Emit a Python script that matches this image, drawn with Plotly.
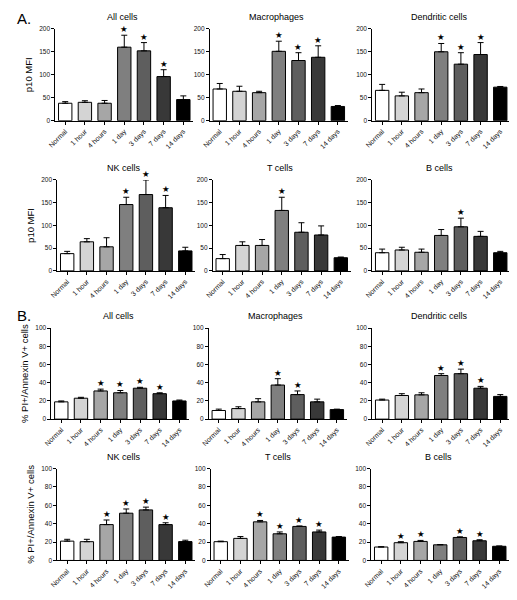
import plotly.graph_objects as go

categories = ["Normal", "1 hour", "4 hours", "1 day", "3 days", "7 days", "14 days"]
bar_colors = ["#ffffff", "#d4d4d4", "#a6a6a6", "#7f7f7f", "#5e5e5e", "#383838", "#000000"]

# Panel A: p10 MFI
mfi_all = [38, 40, 38, 160, 152, 96, 46]
mfi_all_err = [3.5, 3.5, 6, 26, 18, 15, 8]
mfi_all_star = [0, 0, 0, 1, 1, 1, 0]

mfi_mac = [69, 64, 61, 151, 131, 138, 31]
mfi_mac_err = [12, 11, 3, 22, 17, 25, 2]
mfi_mac_star = [0, 0, 0, 1, 1, 1, 0]

mfi_dc = [66, 54, 61, 150, 123, 144, 73]
mfi_dc_err = [13, 8, 8, 18, 25, 26, 1.5]
mfi_dc_star = [0, 0, 0, 1, 1, 1, 0]

mfi_nk = [38, 64, 53, 146, 168, 139, 44]
mfi_nk_err = [5, 7, 20, 16, 32, 27, 8]
mfi_nk_star = [0, 0, 0, 1, 1, 1, 0]

mfi_t = [27, 56, 56, 133, 85, 79, 29]
mfi_t_err = [9, 8, 13, 29, 21, 20, 1.5]
mfi_t_star = [0, 0, 0, 1, 0, 0, 0]

mfi_b = [40, 46, 41, 78, 97, 76, 40]
mfi_b_err = [8, 6, 7, 13, 19, 11, 3]
mfi_b_star = [0, 0, 0, 0, 1, 0, 0]

# Panel B: % PI+/Annexin V+ cells
pi_all = [19, 23, 31, 29, 34, 28, 20]
pi_all_err = [1, 1, 2, 2.5, 1, 1, 1]
pi_all_star = [0, 0, 1, 1, 1, 1, 0]

pi_mac = [9.5, 11.6, 19, 37.5, 27, 19, 10.5]
pi_mac_err = [1.5, 2, 3.5, 7, 4, 3, 0.5]
pi_mac_star = [0, 0, 0, 1, 1, 0, 0]

pi_dc = [21, 26, 26.7, 48, 50, 34, 25]
pi_dc_err = [1, 2, 2.3, 2, 5, 2, 2]
pi_dc_star = [0, 0, 0, 1, 1, 1, 0]

pi_nk = [21, 20.4, 39, 51.4, 55, 39, 20.5]
pi_nk_err = [2, 2.6, 5, 4.6, 3, 2, 1.5]
pi_nk_star = [0, 0, 1, 1, 1, 1, 0]

pi_t = [20.4, 24, 42, 29, 37, 31, 25.4]
pi_t_err = [0.6, 2, 1.5, 2, 0.5, 2, 0.6]
pi_t_star = [0, 0, 1, 1, 1, 1, 0]

pi_b = [14.6, 19.3, 20.7, 17, 25, 21.4, 15.4]
pi_b_err = [0.3, 1.1, 1.1, 0.3, 0.7, 1.1, 0.3]
pi_b_star = [0, 1, 1, 0, 1, 1, 0]

# page body has an 8px margin: work in window pixels, convert with offset
OFF = 8
W, H = 517 - OFF, 600 - OFF
FONT = "Liberation Sans, Arial, sans-serif"


def px(x):
    return (x - OFF) / W


def py(y):
    return 1 - (y - OFF) / H


# layout positions in window pixels: (axis left x, top y, bottom y)
panels = [
    ("All cells", mfi_all, mfi_all_err, mfi_all_star, 48, 25, 118, 200, 50),
    ("Macrophages", mfi_mac, mfi_mac_err, mfi_mac_star, 205, 25, 118, 200, 50),
    ("Dendritic cells", mfi_dc, mfi_dc_err, mfi_dc_star, 370, 25, 118, 200, 50),
    ("NK cells", mfi_nk, mfi_nk_err, mfi_nk_star, 50, 178, 270, 200, 50),
    ("T cells", mfi_t, mfi_t_err, mfi_t_star, 208, 178, 270, 200, 50),
    ("B cells", mfi_b, mfi_b_err, mfi_b_star, 370, 178, 270, 200, 50),
    ("All cells", pi_all, pi_all_err, pi_all_star, 44, 328, 420, 100, 20),
    ("Macrophages", pi_mac, pi_mac_err, pi_mac_star, 204, 328, 420, 100, 20),
    ("Dendritic cells", pi_dc, pi_dc_err, pi_dc_star, 370, 328, 420, 100, 20),
    ("NK cells", pi_nk, pi_nk_err, pi_nk_star, 50, 470, 563, 100, 20),
    ("T cells", pi_t, pi_t_err, pi_t_star, 206, 470, 563, 100, 20),
    ("B cells", pi_b, pi_b_err, pi_b_star, 369, 470, 563, 100, 20),
]
ytitles = {1: "p10 MFI", 4: "p10 MFI", 7: "% PI+/Annexin V+ cells", 10: "% PI+/Annexin V+ cells"}

fig = go.Figure()
annotations = []
PW = 140
for i, (title, vals, errs, stars, lx, ty, by, ymax, dtick) in enumerate(panels):
    n = i + 1
    xa = "x" if n == 1 else f"x{n}"
    ya = "y" if n == 1 else f"y{n}"
    fig.add_trace(go.Bar(
        x=categories, y=vals, xaxis=xa, yaxis=ya,
        marker=dict(color=bar_colors, line=dict(color="black", width=1)),
        error_y=dict(type="data", array=errs, arrayminus=[0] * len(errs), symmetric=False,
                     color="black", thickness=1, width=3),
        showlegend=False, hoverinfo="x+y",
    ))
    xd = [px(lx), px(lx + PW)]
    yd = [py(by), py(ty)]
    fig.layout[f"xaxis{n}"] = dict(
        domain=xd, anchor=ya, type="category", range=[-0.5, 6.5],
        showline=True, linecolor="black", linewidth=1, ticks="outside", ticklen=3,
        tickcolor="black", tickangle=-45, tickfont=dict(size=7, family=FONT, color="#111111"),
        showgrid=False, zeroline=False, fixedrange=True,
    )
    yax = dict(
        domain=yd, anchor=xa, range=[0, ymax], dtick=dtick, tick0=0,
        showline=True, linecolor="black", linewidth=1, ticks="outside", ticklen=3,
        tickcolor="black", tickfont=dict(size=6.5, family=FONT, color="#111111"),
        showgrid=False, zeroline=False, fixedrange=True,
    )
    if n in ytitles:
        yax["title"] = dict(text=ytitles[n], font=dict(size=9.5, family=FONT, color="black"), standoff=4)
    fig.layout[f"yaxis{n}"] = yax
    # panel title
    annotations.append(dict(
        text=title, x=px(lx + PW / 2 - 2), y=py(ty - 5), xref="paper", yref="paper",
        xanchor="center", yanchor="bottom", showarrow=False,
        font=dict(size=9, family=FONT, color="black"),
    ))
    for c, v, e, s in zip(categories, vals, errs, stars):
        if s:
            annotations.append(dict(
                text="★", x=c, y=v + e, xref=xa, yref=ya, xanchor="center", yanchor="bottom",
                showarrow=False, yshift=-1, font=dict(size=8.5, family="DejaVu Sans", color="black"),
            ))

annotations.append(dict(text="A.", x=px(7), y=py(15), xref="paper", yref="paper",
                        xanchor="left", yanchor="middle", showarrow=False,
                        font=dict(size=15, family=FONT, color="black")))
annotations.append(dict(text="B.", x=px(7), y=py(315), xref="paper", yref="paper",
                        xanchor="left", yanchor="middle", showarrow=False,
                        font=dict(size=15, family=FONT, color="black")))

fig.update_layout(
    width=W, height=H, margin=dict(l=0, r=0, t=0, b=0),
    paper_bgcolor="white", plot_bgcolor="white",
    bargap=0.32, annotations=annotations,
    font=dict(family=FONT, color="black"),
)
fig.write_html("out.html")
